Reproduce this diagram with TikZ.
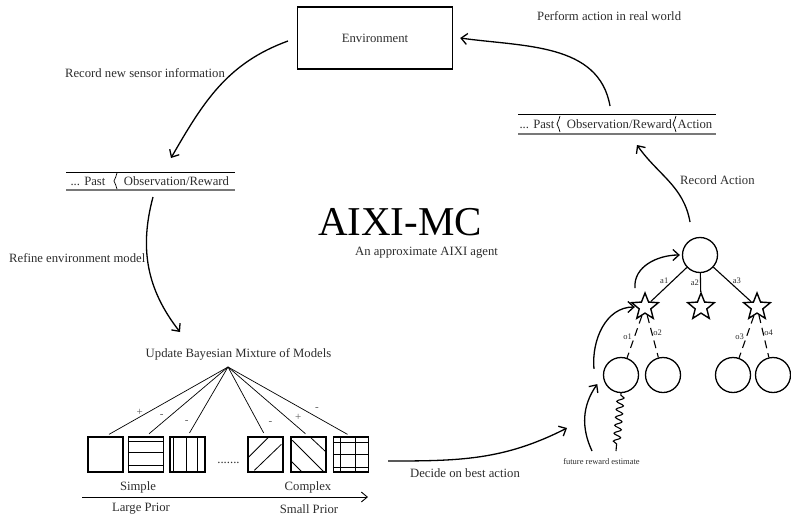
\documentclass[tikz,border=0pt]{standalone}
\usepackage{fontspec}
\setmainfont{Liberation Serif}
\usepackage{tikz}
\usetikzlibrary{shapes.geometric, arrows.meta, calc, decorations.pathmorphing}
\definecolor{txtgray}{RGB}{45,45,45}
\definecolor{signgray}{RGB}{90,90,90}
\definecolor{bargray}{RGB}{120,120,120}

\begin{document}
\begin{tikzpicture}[x=1pt, y=1pt,
  lbl/.style={text=txtgray, font=\fontsize{12.7}{14}\selectfont, inner sep=1pt},
  tinylbl/.style={text=txtgray, font=\fontsize{8.5}{10}\selectfont, inner sep=1pt},
  signlbl/.style={text=signgray, font=\fontsize{11}{12}\selectfont, inner sep=1pt},
  envbox/.style={draw, line width=1.4pt, minimum width=155pt, minimum height=62pt, lbl},
  flow/.style={line width=1.3pt, -{Straight Barb[length=6pt,width=11pt]}},
  apexline/.style={line width=0.7pt, shorten >=4pt},
  modelbox/.style={draw, line width=1.3pt, minimum size=35pt, inner sep=0pt},
  pat/.style={line width=0.8pt},
  treecirc/.style={circle, draw, line width=1.3pt, minimum size=35pt, inner sep=0pt},
  starnode/.style={star, star points=5, star point ratio=2.3, draw, line width=1.4pt, minimum size=28pt, inner sep=0pt},
  treeedge/.style={line width=1.1pt},
  obsedge/.style={line width=1.1pt, dash pattern=on 8pt off 5pt}
]
  \useasboundingbox (0,0) rectangle (791,-516);

  % environment
  \node[envbox] (env) at (375,-38) {Environment};

  % title
  \node[font=\fontsize{41}{44}\selectfont, inner sep=0pt] (title) at (400,-222) {AIXI-MC};
  \node[lbl] (subtitle) at (426.5,-253) {An approximate AIXI agent};

  % history bars
  \draw[line width=0.9pt] (66,-172) -- (235,-172);
  \draw[line width=1.4pt, bargray] (66,-190) -- (235,-190);
  \node[lbl] (pastL) at (88,-181) {... Past};
  \node[lbl] (obsL) at (176.5,-181) {Observation/Reward};

  \draw[line width=0.9pt] (518,-114) -- (716,-114);
  \draw[line width=1.4pt, bargray] (518,-134) -- (716,-134);
  \node[lbl] (pastR) at (537,-124) {... Past};
  \node[lbl] (obsR) at (619.5,-124) {Observation/Reward};
  \node[lbl] (actR) at (695,-124) {Action};

  \foreach \sx/\sy in {117/-181, 560/-124, 676/-124}
    \draw[line width=0.7pt] (\sx,\sy+8) to[out=-100,in=70] (\sx-3,\sy) to[out=-70,in=100] (\sx,\sy-8);

  % arrow end points
  \coordinate (sensA) at (288,-41);
  \coordinate (sensB) at (171,-158);
  \coordinate (refA) at (153,-197);
  \coordinate (refB) at (180,-332);
  \coordinate (apex) at (228,-367);
  \coordinate (decA) at (388,-461);
  \coordinate (decB) at (567,-428);
  \coordinate (futA) at (592,-451);
  \coordinate (snakeEnd) at (616,-451);
  \coordinate (recA) at (690,-222);
  \coordinate (recB) at (637,-145);
  \coordinate (perfA) at (610,-106);

  % loop arrows
  \draw[flow] (sensA) to[out=200,in=60] (sensB);
  \node[lbl] (sensLbl) at (145,-73) {Record new sensor information};
  \node[lbl, anchor=west] (refLbl) at (8,-258) {Refine environment model};
  \draw[flow] (refA) to[out=255,in=128] (refB);
  \draw[flow] (decA) to[out=0,in=207] (decB);
  \node[lbl] (decLbl) at (465,-473) {Decide on best action};
  \draw[flow] (recA) to[out=100,in=-55] (recB);
  \node[lbl, anchor=west] (recLbl) at (679,-180) {Record Action};
  \draw[flow] (perfA) to[out=100,in=-8] ([xshift=7pt]env.east);
  \node[lbl, anchor=west] (perfLbl) at (536,-16) {Perform action in real world};

  % mixture of models
  \node[lbl] (upd) at (238.5,-354) {Update Bayesian Mixture of Models};
  \node[modelbox] (m1) at (105.5,-454.5) {};
  \node[modelbox] (m2) at (146,-454.5) {};
  \node[modelbox] (m3) at (187.5,-454.5) {};
  \node[modelbox] (m4) at (265.5,-454.5) {};
  \node[modelbox] (m5) at (308.5,-454.5) {};
  \node[modelbox] (m6) at (351,-454.5) {};
  \node[lbl] (dots) at (228.5,-463) {.......};

  \begin{scope}[shift={(m2.north west)}]
    \foreach \hy in {5,16,29} \draw[pat] (0,-\hy) -- (35,-\hy);
  \end{scope}
  \begin{scope}[shift={(m3.north west)}]
    \foreach \vx in {4,17,28} \draw[pat] (\vx,0) -- (\vx,-35);
  \end{scope}
  \begin{scope}[shift={(m4.north west)}]
    \draw[pat] (1,-21) -- (21,-1);
    \draw[pat] (7,-34) -- (34,-8);
  \end{scope}
  \begin{scope}[shift={(m5.north west)}]
    \draw[pat] (19,0) -- (35,-15);
    \draw[pat] (2,-4) -- (33,-35);
    \draw[pat] (1,-25) -- (11,-35);
  \end{scope}
  \begin{scope}[shift={(m6.north west)}]
    \foreach \vx in {8,23} \draw[pat] (\vx,0) -- (\vx,-35);
    \foreach \hy in {6,18,31} \draw[pat] (0,-\hy) -- (35,-\hy);
  \end{scope}

  \draw[apexline] (apex) -- node[signlbl, pos=0.72, above] {+} (m1.north);
  \draw[apexline] (apex) -- node[signlbl, pos=0.71, left=5pt] {-} (m2.north);
  \draw[apexline] (apex) -- node[signlbl, pos=0.79, left=6pt] {-} (m3.north);
  \draw[apexline] (apex) -- node[signlbl, pos=0.81, right=9pt] {-} (m4.north);
  \draw[apexline] (apex) -- node[signlbl, pos=0.73, right=7pt] {+} (m5.north);
  \draw[apexline] (apex) -- node[signlbl, pos=0.60, right=12pt] {-} (m6.north);

  % complexity axis
  \node[lbl] (simple) at (138,-487) {Simple};
  \node[lbl] (complex) at (308,-487) {Complex};
  \node[lbl] (large) at (141,-509) {Large Prior};
  \node[lbl] (small) at (309,-509) {Small Prior};
  \coordinate (axA) at (82,-497);
  \coordinate (axB) at (368,-497);
  \draw[line width=0.9pt, -{Straight Barb[length=6pt,width=10pt]}] (axA) -- (axB);

  % search tree
  \node[treecirc] (root) at (700,-255) {};
  \node[starnode] (s1) at (645,-307) {};
  \node[starnode] (s2) at (701,-307) {};
  \node[starnode] (s3) at (757,-307) {};
  \node[treecirc] (l1) at (621,-375) {};
  \node[treecirc] (l2) at (663,-375) {};
  \node[treecirc] (l3) at (733,-375) {};
  \node[treecirc] (l4) at (773,-375) {};

  \draw[treeedge] (root) -- node[tinylbl, above left=-1pt] {a1} (s1);
  \draw[treeedge] (root) -- node[tinylbl, left] {a2} (s2);
  \draw[treeedge] (root) -- node[tinylbl, above right=-1pt] {a3} (s3);
  \draw[obsedge] (s1) -- node[tinylbl, left=1pt] {o1} (l1);
  \draw[obsedge] (s1) -- node[tinylbl, above right=-1pt] {o2} (l2);
  \draw[obsedge] (s3) -- node[tinylbl, left=1pt] {o3} (l3);
  \draw[obsedge] (s3) -- node[tinylbl, above right=-1pt] {o4} (l4);

  \draw[line width=1.1pt, decorate, decoration={snake, amplitude=3.5pt, segment length=8pt, pre length=2pt, post length=4pt}] (l1.south) -- (snakeEnd);
  \node[tinylbl] (futLbl) at (601.5,-462) {future reward estimate};

  \draw[flow] (futA) to[out=115,in=235] ([xshift=-8pt]l1.210);
  \draw[flow] ([xshift=-10pt]l1.160) to[out=95,in=180] ([xshift=-1pt]s1.west);
  \draw[flow] ([xshift=-10pt,yshift=3pt]s1.north) to[out=95,in=180] ([xshift=-2pt]root.west);
\end{tikzpicture}
\end{document}
